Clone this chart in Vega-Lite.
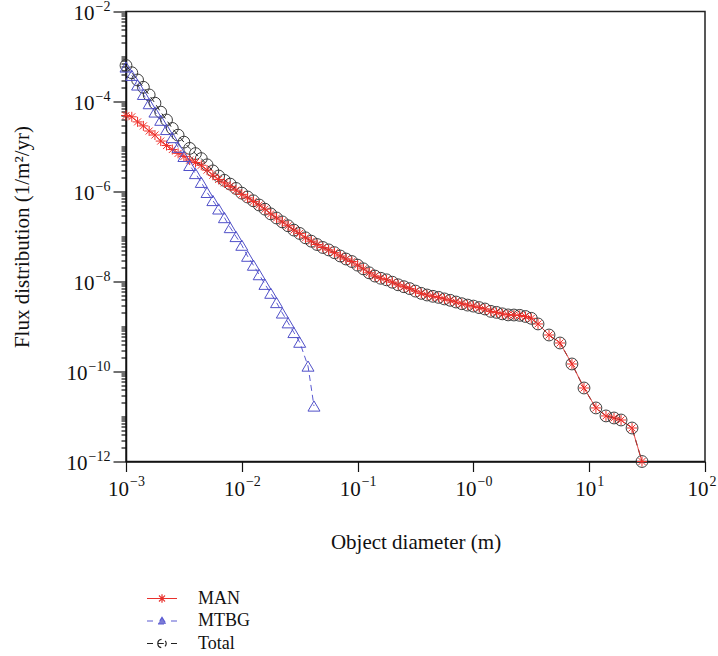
{
  "$schema": "https://vega.github.io/schema/vega-lite/v6.json",
  "width": 579,
  "height": 450,
  "autosize": "none",
  "padding": {"left": 126, "top": 11.5, "right": 13, "bottom": 194.5},
  "background": "white",
  "config": {
    "font": "Liberation Serif",
    "view": {"stroke": "#222", "strokeWidth": 1.5},
    "axis": {
      "domainColor": "#111",
      "domainWidth": 1.5,
      "tickColor": "#111",
      "tickWidth": 1.2,
      "labelFont": "Liberation Serif",
      "labelFontSize": 21,
      "labelColor": "#111",
      "titleFont": "Liberation Serif",
      "titleFontSize": 21,
      "titleFontWeight": "normal",
      "titleColor": "#111",
      "grid": false,
      "labelOverlap": false,
      "labelFlush": false
    }
  },
  "resolve": {"axis": {"x": "independent", "y": "independent"}},
  "data": {
    "values": [
      {"series": "Total", "d": 0.001, "flux": 6.31e-4},
      {"series": "Total", "d": 0.001122, "flux": 4.36e-4},
      {"series": "Total", "d": 0.001259, "flux": 3.01e-4},
      {"series": "Total", "d": 0.001413, "flux": 2.07e-4},
      {"series": "Total", "d": 0.001585, "flux": 1.40e-4},
      {"series": "Total", "d": 0.001778, "flux": 9.20e-5},
      {"series": "Total", "d": 0.001995, "flux": 5.81e-5},
      {"series": "Total", "d": 0.002239, "flux": 3.88e-5},
      {"series": "Total", "d": 0.002512, "flux": 2.52e-5},
      {"series": "Total", "d": 0.002818, "flux": 1.79e-5},
      {"series": "Total", "d": 0.003162, "flux": 1.25e-5},
      {"series": "Total", "d": 0.003548, "flux": 9.08e-6},
      {"series": "Total", "d": 0.003981, "flux": 6.95e-6},
      {"series": "Total", "d": 0.004467, "flux": 5.38e-6},
      {"series": "Total", "d": 0.005012, "flux": 3.92e-6},
      {"series": "Total", "d": 0.005623, "flux": 2.87e-6},
      {"series": "Total", "d": 0.006310, "flux": 2.21e-6},
      {"series": "Total", "d": 0.007079, "flux": 1.77e-6},
      {"series": "Total", "d": 0.007943, "flux": 1.46e-6},
      {"series": "Total", "d": 0.008913, "flux": 1.17e-6},
      {"series": "Total", "d": 0.01, "flux": 9.20e-7},
      {"series": "Total", "d": 0.01122, "flux": 7.55e-7},
      {"series": "Total", "d": 0.01259, "flux": 6.21e-7},
      {"series": "Total", "d": 0.01413, "flux": 5.01e-7},
      {"series": "Total", "d": 0.01585, "flux": 4.05e-7},
      {"series": "Total", "d": 0.01778, "flux": 3.18e-7},
      {"series": "Total", "d": 0.01995, "flux": 2.58e-7},
      {"series": "Total", "d": 0.02239, "flux": 2.11e-7},
      {"series": "Total", "d": 0.02512, "flux": 1.73e-7},
      {"series": "Total", "d": 0.02818, "flux": 1.39e-7},
      {"series": "Total", "d": 0.03162, "flux": 1.17e-7},
      {"series": "Total", "d": 0.03548, "flux": 9.35e-8},
      {"series": "Total", "d": 0.03981, "flux": 7.87e-8},
      {"series": "Total", "d": 0.04467, "flux": 6.64e-8},
      {"series": "Total", "d": 0.05012, "flux": 5.70e-8},
      {"series": "Total", "d": 0.05623, "flux": 5.04e-8},
      {"series": "Total", "d": 0.06310, "flux": 4.37e-8},
      {"series": "Total", "d": 0.07079, "flux": 3.69e-8},
      {"series": "Total", "d": 0.07943, "flux": 3.16e-8},
      {"series": "Total", "d": 0.08913, "flux": 2.78e-8},
      {"series": "Total", "d": 0.1, "flux": 2.31e-8},
      {"series": "Total", "d": 0.1122, "flux": 1.91e-8},
      {"series": "Total", "d": 0.1259, "flux": 1.56e-8},
      {"series": "Total", "d": 0.1413, "flux": 1.32e-8},
      {"series": "Total", "d": 0.1585, "flux": 1.18e-8},
      {"series": "Total", "d": 0.1778, "flux": 1.09e-8},
      {"series": "Total", "d": 0.1995, "flux": 9.64e-9},
      {"series": "Total", "d": 0.2239, "flux": 8.45e-9},
      {"series": "Total", "d": 0.2512, "flux": 7.66e-9},
      {"series": "Total", "d": 0.2818, "flux": 6.95e-9},
      {"series": "Total", "d": 0.3162, "flux": 6.12e-9},
      {"series": "Total", "d": 0.3548, "flux": 5.45e-9},
      {"series": "Total", "d": 0.3981, "flux": 5.01e-9},
      {"series": "Total", "d": 0.4467, "flux": 4.69e-9},
      {"series": "Total", "d": 0.5012, "flux": 4.44e-9},
      {"series": "Total", "d": 0.5623, "flux": 4.10e-9},
      {"series": "Total", "d": 0.6310, "flux": 3.82e-9},
      {"series": "Total", "d": 0.7079, "flux": 3.50e-9},
      {"series": "Total", "d": 0.7943, "flux": 3.21e-9},
      {"series": "Total", "d": 0.8913, "flux": 2.99e-9},
      {"series": "Total", "d": 1.0, "flux": 2.84e-9},
      {"series": "Total", "d": 1.122, "flux": 2.63e-9},
      {"series": "Total", "d": 1.259, "flux": 2.45e-9},
      {"series": "Total", "d": 1.413, "flux": 2.17e-9},
      {"series": "Total", "d": 1.585, "flux": 2.06e-9},
      {"series": "Total", "d": 1.778, "flux": 1.91e-9},
      {"series": "Total", "d": 1.995, "flux": 1.81e-9},
      {"series": "Total", "d": 2.239, "flux": 1.80e-9},
      {"series": "Total", "d": 2.512, "flux": 1.77e-9},
      {"series": "Total", "d": 2.818, "flux": 1.67e-9},
      {"series": "Total", "d": 3.162, "flux": 1.52e-9},
      {"series": "Total", "d": 3.614, "flux": 1.14e-9},
      {"series": "Total", "d": 4.498, "flux": 6.47e-10},
      {"series": "Total", "d": 5.597, "flux": 4.30e-10},
      {"series": "Total", "d": 7.095, "flux": 1.47e-10},
      {"series": "Total", "d": 9.016, "flux": 4.30e-11},
      {"series": "Total", "d": 11.43, "flux": 1.55e-11},
      {"series": "Total", "d": 13.96, "flux": 1.03e-11},
      {"series": "Total", "d": 16.37, "flux": 9.27e-12},
      {"series": "Total", "d": 18.84, "flux": 8.36e-12},
      {"series": "Total", "d": 23.44, "flux": 5.55e-12},
      {"series": "Total", "d": 28.57, "flux": 1.0e-12},

      {"series": "MAN", "d": 0.001, "flux": 4.89e-5},
      {"series": "MAN", "d": 0.001122, "flux": 4.57e-5},
      {"series": "MAN", "d": 0.001259, "flux": 3.52e-5},
      {"series": "MAN", "d": 0.001413, "flux": 2.87e-5},
      {"series": "MAN", "d": 0.001585, "flux": 2.21e-5},
      {"series": "MAN", "d": 0.001778, "flux": 1.80e-5},
      {"series": "MAN", "d": 0.001995, "flux": 1.32e-5},
      {"series": "MAN", "d": 0.002239, "flux": 1.05e-5},
      {"series": "MAN", "d": 0.002512, "flux": 8.57e-6},
      {"series": "MAN", "d": 0.002818, "flux": 7.03e-6},
      {"series": "MAN", "d": 0.003162, "flux": 6.00e-6},
      {"series": "MAN", "d": 0.003548, "flux": 4.99e-6},
      {"series": "MAN", "d": 0.003981, "flux": 4.41e-6},
      {"series": "MAN", "d": 0.004467, "flux": 3.84e-6},
      {"series": "MAN", "d": 0.005012, "flux": 2.99e-6},
      {"series": "MAN", "d": 0.005623, "flux": 2.30e-6},
      {"series": "MAN", "d": 0.006310, "flux": 1.85e-6},
      {"series": "MAN", "d": 0.007079, "flux": 1.55e-6},
      {"series": "MAN", "d": 0.007943, "flux": 1.30e-6},
      {"series": "MAN", "d": 0.008913, "flux": 1.07e-6},
      {"series": "MAN", "d": 0.01, "flux": 8.63e-7},
      {"series": "MAN", "d": 0.01122, "flux": 7.22e-7},
      {"series": "MAN", "d": 0.01259, "flux": 6.02e-7},
      {"series": "MAN", "d": 0.01413, "flux": 5.01e-7},
      {"series": "MAN", "d": 0.01585, "flux": 4.05e-7},
      {"series": "MAN", "d": 0.01778, "flux": 3.18e-7},
      {"series": "MAN", "d": 0.01995, "flux": 2.58e-7},
      {"series": "MAN", "d": 0.02239, "flux": 2.11e-7},
      {"series": "MAN", "d": 0.02512, "flux": 1.73e-7},
      {"series": "MAN", "d": 0.02818, "flux": 1.39e-7},
      {"series": "MAN", "d": 0.03162, "flux": 1.17e-7},
      {"series": "MAN", "d": 0.03548, "flux": 9.35e-8},
      {"series": "MAN", "d": 0.03981, "flux": 7.87e-8},
      {"series": "MAN", "d": 0.04467, "flux": 6.64e-8},
      {"series": "MAN", "d": 0.05012, "flux": 5.70e-8},
      {"series": "MAN", "d": 0.05623, "flux": 5.04e-8},
      {"series": "MAN", "d": 0.06310, "flux": 4.37e-8},
      {"series": "MAN", "d": 0.07079, "flux": 3.69e-8},
      {"series": "MAN", "d": 0.07943, "flux": 3.16e-8},
      {"series": "MAN", "d": 0.08913, "flux": 2.78e-8},
      {"series": "MAN", "d": 0.1, "flux": 2.31e-8},
      {"series": "MAN", "d": 0.1122, "flux": 1.91e-8},
      {"series": "MAN", "d": 0.1259, "flux": 1.56e-8},
      {"series": "MAN", "d": 0.1413, "flux": 1.32e-8},
      {"series": "MAN", "d": 0.1585, "flux": 1.18e-8},
      {"series": "MAN", "d": 0.1778, "flux": 1.09e-8},
      {"series": "MAN", "d": 0.1995, "flux": 9.64e-9},
      {"series": "MAN", "d": 0.2239, "flux": 8.45e-9},
      {"series": "MAN", "d": 0.2512, "flux": 7.66e-9},
      {"series": "MAN", "d": 0.2818, "flux": 6.95e-9},
      {"series": "MAN", "d": 0.3162, "flux": 6.12e-9},
      {"series": "MAN", "d": 0.3548, "flux": 5.45e-9},
      {"series": "MAN", "d": 0.3981, "flux": 5.01e-9},
      {"series": "MAN", "d": 0.4467, "flux": 4.69e-9},
      {"series": "MAN", "d": 0.5012, "flux": 4.44e-9},
      {"series": "MAN", "d": 0.5623, "flux": 4.10e-9},
      {"series": "MAN", "d": 0.6310, "flux": 3.82e-9},
      {"series": "MAN", "d": 0.7079, "flux": 3.50e-9},
      {"series": "MAN", "d": 0.7943, "flux": 3.21e-9},
      {"series": "MAN", "d": 0.8913, "flux": 2.99e-9},
      {"series": "MAN", "d": 1.0, "flux": 2.84e-9},
      {"series": "MAN", "d": 1.122, "flux": 2.63e-9},
      {"series": "MAN", "d": 1.259, "flux": 2.45e-9},
      {"series": "MAN", "d": 1.413, "flux": 2.17e-9},
      {"series": "MAN", "d": 1.585, "flux": 2.06e-9},
      {"series": "MAN", "d": 1.778, "flux": 1.91e-9},
      {"series": "MAN", "d": 1.995, "flux": 1.81e-9},
      {"series": "MAN", "d": 2.239, "flux": 1.80e-9},
      {"series": "MAN", "d": 2.512, "flux": 1.77e-9},
      {"series": "MAN", "d": 2.818, "flux": 1.67e-9},
      {"series": "MAN", "d": 3.162, "flux": 1.52e-9},
      {"series": "MAN", "d": 3.614, "flux": 1.14e-9},
      {"series": "MAN", "d": 4.498, "flux": 6.47e-10},
      {"series": "MAN", "d": 5.597, "flux": 4.30e-10},
      {"series": "MAN", "d": 7.095, "flux": 1.47e-10},
      {"series": "MAN", "d": 9.016, "flux": 4.30e-11},
      {"series": "MAN", "d": 11.43, "flux": 1.55e-11},
      {"series": "MAN", "d": 13.96, "flux": 1.03e-11},
      {"series": "MAN", "d": 16.37, "flux": 9.27e-12},
      {"series": "MAN", "d": 18.84, "flux": 8.36e-12},
      {"series": "MAN", "d": 23.44, "flux": 5.55e-12},
      {"series": "MAN", "d": 28.57, "flux": 1.0e-12},

      {"series": "MTBG", "d": 0.001, "flux": 5.85e-4},
      {"series": "MTBG", "d": 0.001122, "flux": 3.82e-4},
      {"series": "MTBG", "d": 0.001259, "flux": 2.33e-4},
      {"series": "MTBG", "d": 0.001413, "flux": 1.44e-4},
      {"series": "MTBG", "d": 0.001585, "flux": 8.97e-5},
      {"series": "MTBG", "d": 0.001778, "flux": 5.85e-5},
      {"series": "MTBG", "d": 0.001995, "flux": 3.84e-5},
      {"series": "MTBG", "d": 0.002239, "flux": 2.39e-5},
      {"series": "MTBG", "d": 0.002512, "flux": 1.58e-5},
      {"series": "MTBG", "d": 0.002818, "flux": 9.64e-6},
      {"series": "MTBG", "d": 0.003162, "flux": 6.03e-6},
      {"series": "MTBG", "d": 0.003548, "flux": 3.80e-6},
      {"series": "MTBG", "d": 0.003981, "flux": 2.51e-6},
      {"series": "MTBG", "d": 0.004467, "flux": 1.60e-6},
      {"series": "MTBG", "d": 0.005012, "flux": 9.55e-7},
      {"series": "MTBG", "d": 0.005623, "flux": 6.31e-7},
      {"series": "MTBG", "d": 0.006310, "flux": 4.10e-7},
      {"series": "MTBG", "d": 0.007079, "flux": 2.63e-7},
      {"series": "MTBG", "d": 0.007943, "flux": 1.58e-7},
      {"series": "MTBG", "d": 0.008913, "flux": 1.00e-7},
      {"series": "MTBG", "d": 0.01, "flux": 6.41e-8},
      {"series": "MTBG", "d": 0.01122, "flux": 3.65e-8},
      {"series": "MTBG", "d": 0.01259, "flux": 2.31e-8},
      {"series": "MTBG", "d": 0.01413, "flux": 1.42e-8},
      {"series": "MTBG", "d": 0.01585, "flux": 8.67e-9},
      {"series": "MTBG", "d": 0.01778, "flux": 5.50e-9},
      {"series": "MTBG", "d": 0.01995, "flux": 3.41e-9},
      {"series": "MTBG", "d": 0.02239, "flux": 2.00e-9},
      {"series": "MTBG", "d": 0.02512, "flux": 1.21e-9},
      {"series": "MTBG", "d": 0.02818, "flux": 7.36e-10},
      {"series": "MTBG", "d": 0.03162, "flux": 4.48e-10},
      {"series": "MTBG", "d": 0.0373, "flux": 1.32e-10},
      {"series": "MTBG", "d": 0.0420, "flux": 1.71e-11}
    ]
  },
  "layer": [
    {
      "mark": {"type": "line", "strokeWidth": 1},
      "encoding": {
        "x": {
          "field": "d",
          "type": "quantitative",
          "scale": {"type": "log", "domain": [0.001, 100], "nice": false},
          "axis": {
            "orient": "bottom",
            "title": "Object diameter (m)",
            "values": [0.001, 0.01, 0.1, 1, 10, 100],
            "tickSize": 10,
            "labelPadding": 7,
            "labelAlign": "center",
            "labelOffset": {"condition": [{"test": "datum.value < 5", "value": -7.9}, {"test": "datum.value > 50", "value": -7.5}], "value": -4},
            "titlePadding": 32,
            "labelExpr": "'10'"
          }
        },
        "y": {
          "field": "flux",
          "type": "quantitative",
          "scale": {"type": "log", "domain": [1e-12, 0.01], "nice": false},
          "axis": {
            "orient": "left",
            "title": "Flux distribution (1/m²/yr)",
            "labels": false,
            "values": [
              1e-12, 2e-12, 3e-12, 4e-12, 5e-12, 6e-12, 7e-12, 8e-12, 9e-12,
              1e-11, 2e-11, 3e-11, 4e-11, 5e-11, 6e-11, 7e-11, 8e-11, 9e-11,
              1e-10, 2e-10, 3e-10, 4e-10, 5e-10, 6e-10, 7e-10, 8e-10, 9e-10,
              1e-9, 2e-9, 3e-9, 4e-9, 5e-9, 6e-9, 7e-9, 8e-9, 9e-9,
              1e-8, 2e-8, 3e-8, 4e-8, 5e-8, 6e-8, 7e-8, 8e-8, 9e-8,
              1e-7, 2e-7, 3e-7, 4e-7, 5e-7, 6e-7, 7e-7, 8e-7, 9e-7,
              1e-6, 2e-6, 3e-6, 4e-6, 5e-6, 6e-6, 7e-6, 8e-6, 9e-6,
              1e-5, 2e-5, 3e-5, 4e-5, 5e-5, 6e-5, 7e-5, 8e-5, 9e-5,
              1e-4, 2e-4, 3e-4, 4e-4, 5e-4, 6e-4, 7e-4, 8e-4, 9e-4,
              1e-3, 2e-3, 3e-3, 4e-3, 5e-3, 6e-3, 7e-3, 8e-3, 9e-3,
              1e-2
            ],
            "tickSize": {
              "condition": {"test": "indexof([1e-2, 1e-4, 1e-6, 1e-8, 1e-10, 1e-12], datum.value) >= 0", "value": 13},
              "value": 5
            },
            "titlePadding": 80
          }
        },
        "color": {
          "field": "series",
          "type": "nominal",
          "scale": {"domain": ["MAN", "MTBG", "Total"], "range": ["#e8302c", "#5a5ad2", "#222222"]},
          "legend": {
            "title": null,
            "orient": "none",
            "legendX": 27,
            "legendY": 578,
            "padding": 0,
            "symbolSize": 36,
            "symbolStrokeWidth": 1.2,
            "labelFont": "Liberation Serif",
            "labelFontSize": 18,
            "labelColor": "#111",
            "labelOffset": 27,
            "rowPadding": 4.5,
            "encode": {
              "symbols": {
                "update": {
                  "shape": {"signal": "datum.value === 'MAN' ? 'M-5,0H5M-1.4,0H1.4M0,-1.4V1.4M-1,-1L1,1M-1,1L1,-1' : datum.value === 'MTBG' ? 'M-5,0H-3M3,0H5M0,-1.2L1.4,1L-1.4,1Z' : 'M-5,0H-3M3,0H5M-1.4,0H1.4M-1.4,0A1.4,1.4 0 1,1 1.4,0A1.4,1.4 0 1,1 -1.4,0'"},
                  "fill": {"signal": "datum.value === 'MTBG' ? '#7b7bd6' : 'transparent'"},
                  "strokeDash": {"value": [1, 0]}
                }
              }
            }
          }
        },
        "strokeDash": {
          "field": "series",
          "type": "nominal",
          "scale": {"domain": ["MAN", "MTBG", "Total"], "range": [[1, 0], [6, 4], [6, 4]]},
          "legend": null
        }
      }
    },
    {
      "transform": [{"filter": "datum.series === 'Total'"}],
      "mark": {"type": "point", "shape": "circle", "size": 140, "filled": false, "color": "#2a2a2a", "strokeWidth": 1, "opacity": 0.9},
      "encoding": {
        "x": {
          "field": "d",
          "type": "quantitative",
          "axis": {
            "orient": "bottom",
            "title": null,
            "values": [0.001, 0.01, 0.1, 1, 10, 100],
            "ticks": false,
            "domain": false,
            "labelFontSize": 14,
            "labelAlign": "left",
            "labelPadding": 12.5,
            "labelOffset": {"condition": [{"test": "datum.value < 5", "value": 3.6}, {"test": "datum.value > 50", "value": 4}], "value": 7.5},
            "labelExpr": "datum.value == 0.001 ? '−3' : datum.value == 0.01 ? '−2' : datum.value == 0.1 ? '−1' : datum.value == 1 ? '−0' : datum.value == 10 ? '1' : '2'"
          }
        },
        "y": {
          "field": "flux",
          "type": "quantitative",
          "axis": {
            "orient": "left",
            "title": null,
            "values": [1e-12, 1e-10, 1e-8, 1e-6, 1e-4, 1e-2],
            "ticks": false,
            "domain": false,
            "labelAlign": "right",
            "labelOffset": 1.5,
            "labelPadding": {"condition": {"test": "datum.value < 1e-9", "value": 39}, "value": 32},
            "labelExpr": "'10'"
          }
        }
      }
    },
    {
      "transform": [{"filter": "datum.series === 'MAN'"}],
      "mark": {"type": "point", "shape": "M-1,0H1M0,-1V1M-0.7,-0.7L0.7,0.7M-0.7,0.7L0.7,-0.7", "size": 100, "filled": false, "color": "#f0302a", "strokeWidth": 1, "opacity": 1},
      "encoding": {
        "x": {"field": "d", "type": "quantitative", "axis": null},
        "y": {
          "field": "flux",
          "type": "quantitative",
          "axis": {
            "orient": "left",
            "title": null,
            "values": [1e-12, 1e-10, 1e-8, 1e-6, 1e-4, 1e-2],
            "ticks": false,
            "domain": false,
            "labelFontSize": 14,
            "labelAlign": "right",
            "labelOffset": -5,
            "labelPadding": 16,
            "labelExpr": "datum.value == 1e-2 ? '−2' : datum.value == 1e-4 ? '−4' : datum.value == 1e-6 ? '−6' : datum.value == 1e-8 ? '−8' : datum.value == 1e-10 ? '−10' : '−12'"
          }
        }
      }
    },
    {
      "transform": [{"filter": "datum.series === 'MTBG'"}],
      "mark": {"type": "point", "shape": "M0,-0.85L1,0.85L-1,0.85Z", "size": 144, "filled": false, "color": "#5050c8", "strokeWidth": 1, "opacity": 1},
      "encoding": {
        "x": {"field": "d", "type": "quantitative", "axis": null},
        "y": {"field": "flux", "type": "quantitative", "axis": null}
      }
    }
  ]
}
